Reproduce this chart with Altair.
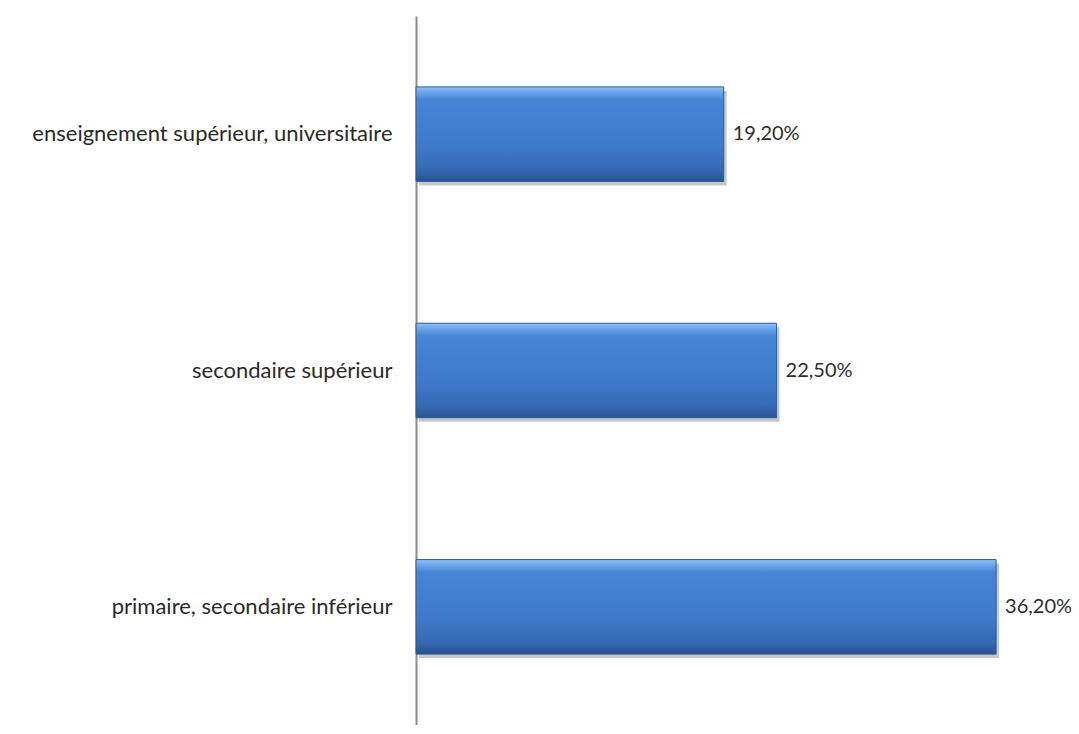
import altair as alt
import pandas as pd

categories = [
    "enseignement supérieur, universitaire",
    "secondaire supérieur",
    "primaire, secondaire inférieur",
]
values = [19.2, 22.5, 36.2]
labels = ["19,20%", "22,50%", "36,20%"]

df = pd.DataFrame({"cat": categories, "val": values, "lab": labels})

FONT = "Lato"
y_enc = alt.Y(
    "cat:N",
    sort=categories,
    scale=alt.Scale(paddingInner=0.6, paddingOuter=0.3),
    axis=alt.Axis(
        title=None,
        ticks=False,
        grid=False,
        domain=True,
        domainColor="#8c8c8c",
        domainWidth=2,
        labelFont=FONT,
        labelFontSize=22,
        labelColor="#2a2a2a",
        labelPadding=24,
        labelLimit=420,
    ),
)
x_enc = alt.X("val:Q", scale=alt.Scale(domain=[0, 40], nice=False), axis=None)

gradient = alt.Gradient(
    gradient="linear",
    x1=0, y1=0, x2=0, y2=1,
    stops=[
        alt.GradientStop(offset=0, color="#8fc1f6"),
        alt.GradientStop(offset=0.07, color="#62a0e6"),
        alt.GradientStop(offset=0.14, color="#4684d5"),
        alt.GradientStop(offset=0.6, color="#3f7bcb"),
        alt.GradientStop(offset=0.88, color="#3569b3"),
        alt.GradientStop(offset=1, color="#28528f"),
    ],
)

base = alt.Chart(df)
shadow = base.mark_bar(color="#000000", opacity=0.22, xOffset=3, yOffset=4).encode(x=x_enc, y=y_enc)
bars = base.mark_bar(color=gradient, stroke="#2d5b99", strokeWidth=1).encode(x=x_enc, y=y_enc)
text = base.mark_text(
    align="left", baseline="middle", dx=9, font=FONT, fontSize=20, color="#2e2e2e"
).encode(x=x_enc, y=y_enc, text="lab:N")

chart = (
    alt.layer(shadow, bars, text)
    .properties(
        width=641,
        height=709,
        autosize=alt.AutoSizeParams(type="none"),
        padding={"left": 408, "top": 8, "right": 14, "bottom": 0},
        background="white",
    )
    .configure_view(stroke=None)
)

chart.save("out.html", embed_options={"renderer": "svg", "actions": False})
